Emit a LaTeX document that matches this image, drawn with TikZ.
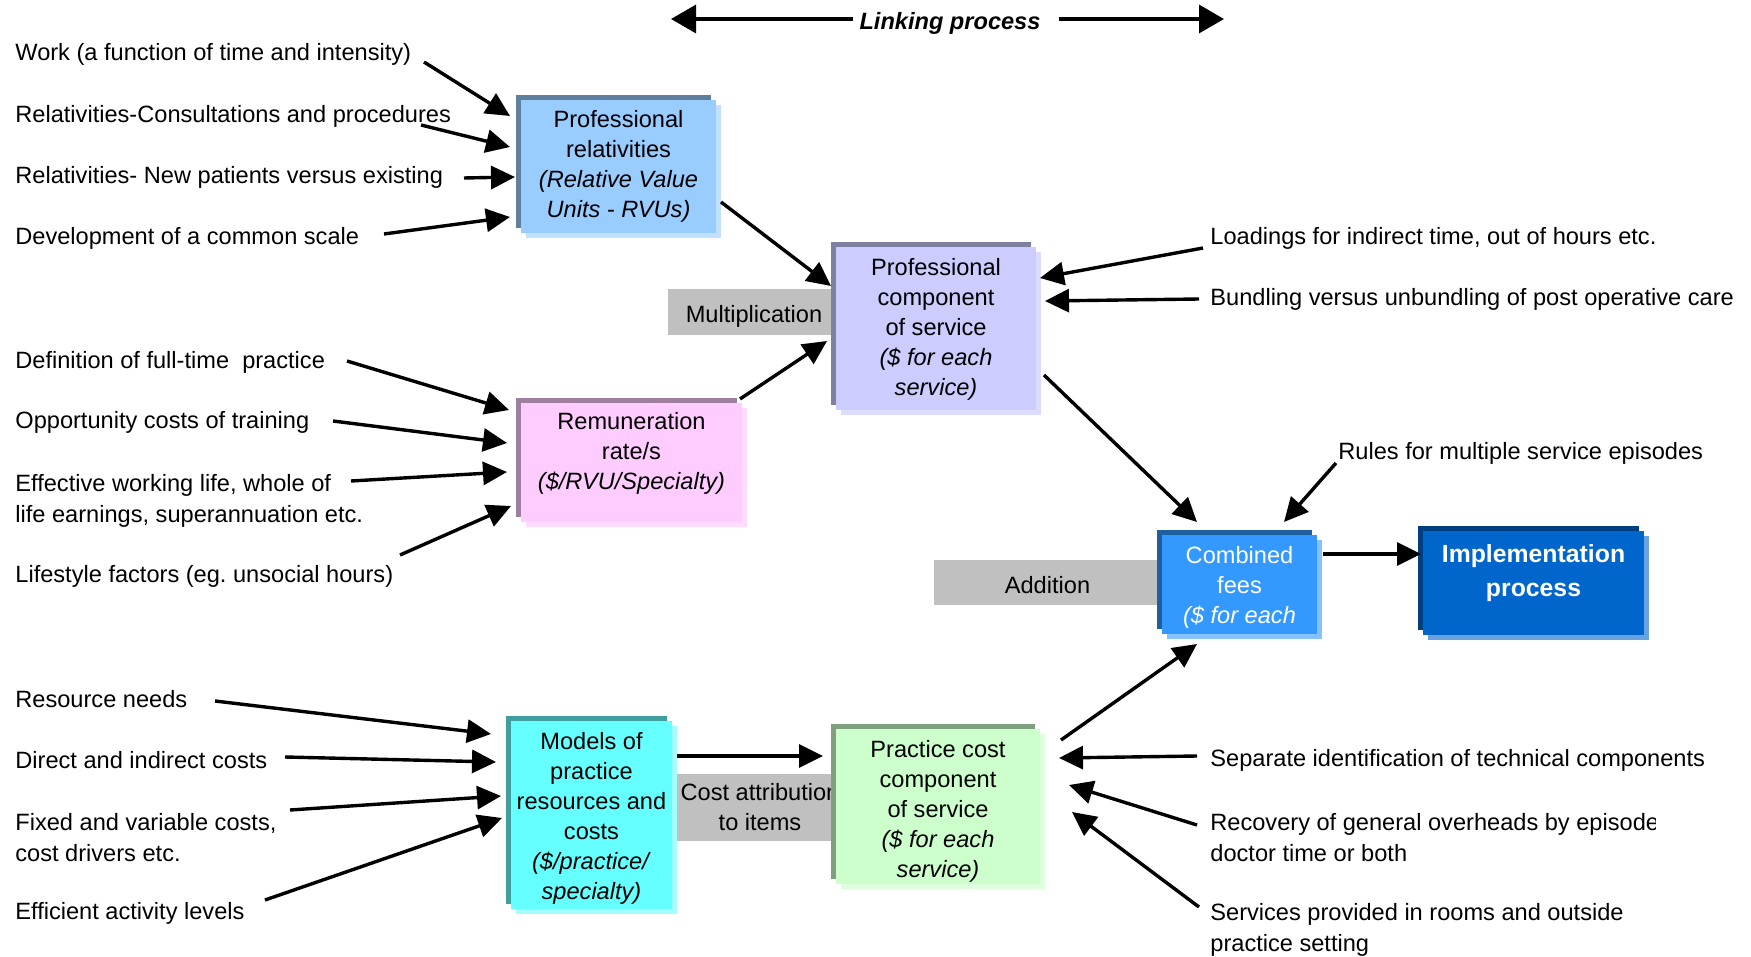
\documentclass[tikz,border=0pt]{standalone}
\usepackage{fontspec}
\setmainfont{Liberation Sans}
\usetikzlibrary{arrows.meta,shadows,calc}
\frenchspacing

% fills of the layered boxes: back (dark), face, front (light)
\definecolor{prelD}{HTML}{5F7F9F}\definecolor{prelM}{HTML}{99CCFF}\definecolor{prelL}{HTML}{C2E0FF}
\definecolor{pcomD}{HTML}{7F7F9F}\definecolor{pcomM}{HTML}{CCCCFF}\definecolor{pcomL}{HTML}{DCDCFF}
\definecolor{remuD}{HTML}{9F7F9F}\definecolor{remuM}{HTML}{FFCCFF}\definecolor{remuL}{HTML}{FFDCFF}
\definecolor{modlD}{HTML}{3F9F9F}\definecolor{modlM}{HTML}{66FFFF}\definecolor{modlL}{HTML}{A3FFFF}
\definecolor{pracD}{HTML}{7F9F7F}\definecolor{pracM}{HTML}{CCFFCC}\definecolor{pracL}{HTML}{DDFFDD}
\definecolor{combD}{HTML}{1F5F9F}\definecolor{combM}{HTML}{3399FF}\definecolor{combL}{HTML}{85C1FF}
\definecolor{implD}{HTML}{003F7F}\definecolor{implM}{HTML}{0066CC}\definecolor{implL}{HTML}{66A3E0}
\definecolor{opgrey}{HTML}{C0C0C0}

\begin{document}
\begin{tikzpicture}[x=0.5pt,y=-0.5pt,
  every node/.style={font=\fontsize{11.8pt}{15.4pt}\selectfont, inner sep=0pt},
  lbl/.style={anchor=west, align=left},
  intext/.style={anchor=north, align=center, font=\fontsize{11.8pt}{15pt}\selectfont},
  layered/.style n args={3}{fill=#2,
     general shadow={shadow xshift=-2.5pt, shadow yshift=2.5pt, fill=#1},
     general shadow={shadow xshift=2.5pt, shadow yshift=-2.5pt, fill=#3}},
  opbox/.style={fill=opgrey, align=center},
  arr/.style={line width=1.7pt, -{Triangle[length=12pt,width=11.5pt]}},
  bigarr/.style={line width=1.7pt, -{Triangle[length=12.5pt,width=14pt]}}
]
\useasboundingbox (0,0) rectangle (1751,957);

% ---- linking process banner ----
\node[font=\fontsize{11.8pt}{15.4pt}\selectfont\bfseries\itshape] (link) at (950,23) {Linking process};
\coordinate (linkL) at (671,19);
\coordinate (linkR) at (1224,19);
\draw[bigarr] ($(link.west)+(-6,-4)$) -- (linkL);
\draw[bigarr] ($(link.east)+(18,-4)$) -- (linkR);

% ---- operation labels (drawn first, boxes overlap them) ----
\node[opbox, minimum width=86pt, minimum height=23pt] (mult) at (754,312) {};
\node (multT) at (754,316) {Multiplication};
\node[opbox, minimum width=113.5pt, minimum height=22.5pt] (addn) at (1047.5,582.5) {};
\node (addnT) at (1047.5,585) {Addition};
\node[opbox, minimum width=84pt, minimum height=33.5pt] (cattr) at (760,807) {Cost attribution\\to items};

% ---- layered boxes ----
\node[layered={prelD}{prelM}{prelL}, minimum width=97.5pt, minimum height=66.5pt] (prel) at (618.5,166.5) {};
\node[intext] (prelT) at ($(prel.north)+(0,10)$) {Professional\\relativities\\\textit{(Relative Value}\\\textit{Units - RVUs)}};

\node[layered={pcomD}{pcomM}{pcomL}, minimum width=100pt, minimum height=81.5pt] (pcom) at (936,328.5) {};
\node[intext] (pcomT) at ($(pcom.north)+(0,11)$) {Professional\\component\\of service\\\textit{(\$ for each}\\\textit{service)}};

\node[layered={remuD}{remuM}{remuL}, minimum width=110.5pt, minimum height=59.5pt] (remu) at (631.5,462.5) {};
\node[intext] (remuT) at ($(remu.north)+(0,9)$) {Remuneration\\rate/s\\\textit{(\$/RVU/Specialty)}};

\node[layered={modlD}{modlM}{modlL}, minimum width=80.5pt, minimum height=94pt] (modl) at (591.5,815) {};
\node[intext] (modlT) at ($(modl.north)+(0,11)$) {Models of\\practice\\resources and\\costs\\\textit{(\$/practice/}\\\textit{specialty)}};

\node[layered={pracD}{pracM}{pracL}, minimum width=102pt, minimum height=77.5pt] (prac) at (938,806.5) {};
\node[intext] (pracT) at ($(prac.north)+(0,11)$) {Practice cost\\component\\of service\\\textit{(\$ for each}\\\textit{service)}};

\node[layered={combD}{combM}{combL}, minimum width=77.5pt, minimum height=49.5pt] (comb) at (1239.5,584.5) {};
\node[intext, text=white] (combT) at ($(comb.north)+(0,11)$) {Combined\\fees\\\textit{(\$ for each}};

\node[layered={implD}{implM}{implL}, minimum width=110.5pt, minimum height=52pt] (impl) at (1533.5,583) {};
\node[intext, text=white, font=\fontsize{12.4pt}{16.8pt}\selectfont\bfseries] (implT) at ($(impl.north)+(0,14)$) {Implementation\\process};

% ---- inputs, left column ----
\node[lbl] (work) at (15,54.5) {Work (a function of time and intensity)};
\node[lbl] (rcons) at (15,116.5) {Relativities-Consultations and procedures};
\node[lbl] (rnew) at (15,177.5) {Relativities- New patients versus existing};
\node[lbl] (cscale) at (15,238.5) {Development of a common scale};
\node[lbl] (ftime) at (15,362.5) {Definition of full-time\ \ practice};
\node[lbl] (opp) at (15,422.5) {Opportunity costs of training};
\node[lbl] (wlife) at (15,500.5) {Effective working life, whole of\\life earnings, superannuation etc.};
\node[lbl] (life) at (15,576.5) {Lifestyle factors (eg. unsocial hours)};
\node[lbl] (rneed) at (15,699.5) {Resource needs};
\node[lbl] (dcost) at (15,760.5) {Direct and indirect costs};
\node[lbl] (fcost) at (15,837.5) {Fixed and variable costs,\\cost drivers etc.};
\node[lbl] (eff) at (15,913.5) {Efficient activity levels};

% ---- inputs, right column ----
\node[lbl] (load) at (1210,238.5) {Loadings for indirect time, out of hours etc.};
\node[lbl] (bund) at (1210,299.5) {Bundling versus unbundling of post operative care};
\node[lbl] (rules) at (1338,453.5) {Rules for multiple service episodes};
\node[lbl] (sep) at (1210,760.5) {Separate identification of technical components};
\begin{scope}
  \clip (1200,800) rectangle (1655,870);
  \node[lbl] (recov) at (1210,837.5) {Recovery of general overheads by episode\\doctor time or both};
\end{scope}
\node[lbl] (serv) at (1210,929.5) {Services provided in rooms and outside\\practice setting};

% ---- connector ends ----
\coordinate (workO) at (424,62);   \coordinate (prelI1) at (510,116);
\coordinate (rconsO) at (421,125); \coordinate (prelI2) at (510,147);
\coordinate (rnewO) at (464,178);  \coordinate (prelI3) at (515,177);
\coordinate (cscaleO) at (384,234);\coordinate (prelI4) at (510,217);
\coordinate (prelO) at (721,202);  \coordinate (pcomI1) at (831,286);
\coordinate (remuO) at (740,399);  \coordinate (pcomI2) at (827,341);
\coordinate (ftimeO) at (347,361); \coordinate (remuI1) at (509,410);
\coordinate (oppO) at (333,421);   \coordinate (remuI2) at (507,443);
\coordinate (wlifeO) at (351,481); \coordinate (remuI3) at (507,472);
\coordinate (lifeO) at (400,555);  \coordinate (remuI4) at (511,506);
\coordinate (loadO) at (1203,248); \coordinate (pcomI3) at (1040,278);
\coordinate (bundO) at (1199,299); \coordinate (pcomI4) at (1045,301);
\coordinate (pcomO) at (1044,375); \coordinate (combI1) at (1197,522);
\coordinate (rulesO) at (1336,463);\coordinate (combI2) at (1284,522);
\coordinate (combO) at (1323,554); \coordinate (implI) at (1421,554);
\coordinate (pracO) at (1061,740); \coordinate (combI3) at (1197,644);
\coordinate (modlO) at (677,756);  \coordinate (pracI1) at (823,756);
\coordinate (rneedO) at (215,701); \coordinate (modlI1) at (491,734);
\coordinate (dcostO) at (285,757); \coordinate (modlI2) at (496,762);
\coordinate (fcostO) at (290,810); \coordinate (modlI3) at (501,796);
\coordinate (effO) at (265,900);   \coordinate (modlI4) at (502,818);
\coordinate (sepO) at (1197,756);  \coordinate (pracI2) at (1059,758);
\coordinate (recovO) at (1197,825);\coordinate (pracI3) at (1069,785);
\coordinate (servO) at (1199,907); \coordinate (pracI4) at (1072,812);

% ---- connectors ----
\draw[arr] (workO) -- (prelI1);
\draw[arr] (rconsO) -- (prelI2);
\draw[arr] (rnewO) -- (prelI3);
\draw[arr] (cscaleO) -- (prelI4);
\draw[arr] (prelO) -- (pcomI1);
\draw[arr] (remuO) -- (pcomI2);
\draw[arr] (ftimeO) -- (remuI1);
\draw[arr] (oppO) -- (remuI2);
\draw[arr] (wlifeO) -- (remuI3);
\draw[arr] (lifeO) -- (remuI4);
\draw[arr] (loadO) -- (pcomI3);
\draw[arr] (bundO) -- (pcomI4);
\draw[arr] (pcomO) -- (combI1);
\draw[arr] (rulesO) -- (combI2);
\draw[arr] (combO) -- (implI);
\draw[arr] (pracO) -- (combI3);
\draw[arr] (modlO) -- (pracI1);
\draw[arr] (rneedO) -- (modlI1);
\draw[arr] (dcostO) -- (modlI2);
\draw[arr] (fcostO) -- (modlI3);
\draw[arr] (effO) -- (modlI4);
\draw[arr] (sepO) -- (pracI2);
\draw[arr] (recovO) -- (pracI3);
\draw[arr] (servO) -- (pracI4);
\end{tikzpicture}
\end{document}
